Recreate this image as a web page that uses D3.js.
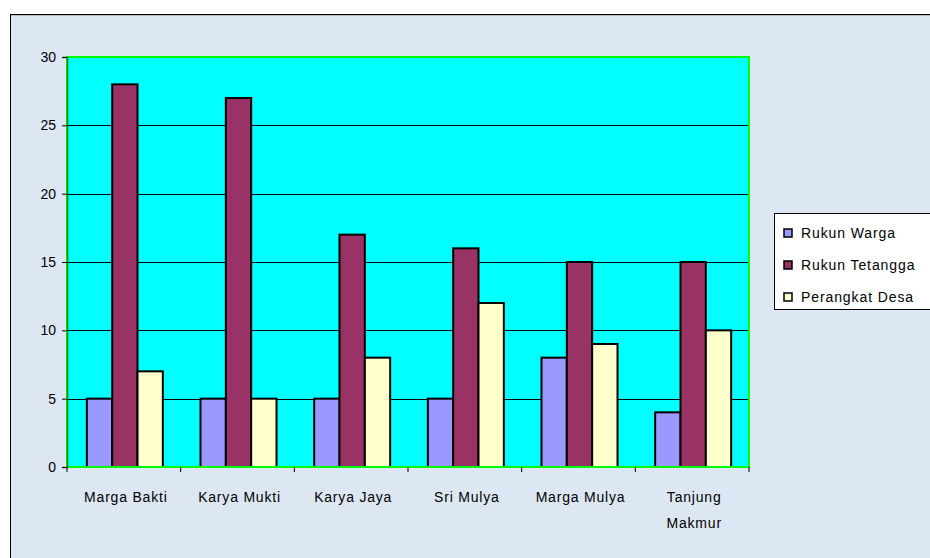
<!DOCTYPE html>
<html>
<head>
    <title>Jumlah RW, RT dan Perangkat Desa</title>
    <script src="https://cdnjs.cloudflare.com/ajax/libs/d3/7.8.5/d3.min.js"></script>
    <style>
        body { margin: 0; background: #fff; }
        text { font-family: Arial, "Liberation Sans", sans-serif; }
    </style>
</head>
<body>
    <div id="chart"></div>

    <script>
        // Data
        const categories = ['Marga Bakti', 'Karya Mukti', 'Karya Jaya', 'Sri Mulya', 'Marga Mulya', 'Tanjung Makmur'];
        const seriesNames = ['Rukun Warga', 'Rukun Tetangga', 'Perangkat Desa'];
        const rukunWarga = [5, 5, 5, 5, 8, 4];
        const rukunTetangga = [28, 27, 17, 16, 15, 15];
        const perangkatDesa = [7, 5, 8, 12, 9, 10];
        const yTicks = [0, 5, 10, 15, 20, 25, 30];

        const colors = ['#9999ff', '#993366', '#ffffcc'];
        const seriesValues = [rukunWarga, rukunTetangga, perangkatDesa];

        const width = 930;
        const height = 558;
        const plot = {left: 67, right: 749, top: 57, bottom: 467};

        const svg = d3.select('#chart')
            .append('svg')
            .attr('width', width)
            .attr('height', height);

        // chart frame
        svg.append('rect')
            .attr('x', 10.5).attr('y', 14.5)
            .attr('width', 940).attr('height', 560)
            .attr('fill', '#dde7f3')
            .attr('stroke', '#000').attr('stroke-width', 1);
        svg.append('line')
            .attr('x1', 11).attr('x2', width)
            .attr('y1', 15.5).attr('y2', 15.5)
            .attr('stroke', '#bbb');

        // scales
        const x = d3.scaleBand()
            .domain(categories)
            .range([plot.left, plot.right]);

        const xs = d3.scaleBand()
            .domain(seriesNames)
            .range([0, 76]);

        const y = d3.scaleLinear()
            .domain([0, 30])
            .range([plot.bottom, plot.top]);

        // plot background
        svg.append('rect')
            .attr('x', plot.left).attr('y', plot.top)
            .attr('width', plot.right - plot.left)
            .attr('height', plot.bottom - plot.top)
            .attr('fill', '#00ffff');

        // gridlines
        svg.append('g')
            .selectAll('line')
            .data(yTicks.filter(d => d > 0 && d < 30))
            .join('line')
            .attr('x1', plot.left).attr('x2', plot.right)
            .attr('y1', d => Math.round(y(d)) + 0.5)
            .attr('y2', d => Math.round(y(d)) + 0.5)
            .attr('stroke', '#000').attr('stroke-width', 1);

        // bars
        const rows = categories.map((c, i) => ({
            cat: c,
            vals: seriesNames.map((s, j) => ({series: s, idx: j, value: seriesValues[j][i]}))
        }));

        svg.append('g')
            .selectAll('g')
            .data(rows)
            .join('g')
            .attr('transform', d => `translate(${x(d.cat) + (x.bandwidth() - 76) / 2 + 1},0)`)
            .selectAll('rect')
            .data(d => d.vals)
            .join('rect')
            .attr('x', d => xs(d.series))
            .attr('y', d => y(d.value))
            .attr('width', xs.bandwidth())
            .attr('height', d => y(0) - y(d.value))
            .attr('fill', d => colors[d.idx])
            .attr('stroke', '#000')
            .attr('stroke-width', 2);

        // plot border (green)
        svg.append('rect')
            .attr('x', plot.left).attr('y', plot.top)
            .attr('width', plot.right - plot.left)
            .attr('height', plot.bottom - plot.top)
            .attr('fill', 'none')
            .attr('stroke', '#00ff00').attr('stroke-width', 2);

        // y axis
        const yAxis = svg.append('g')
            .attr('transform', `translate(${plot.left},0)`)
            .call(d3.axisLeft(y).tickValues(yTicks).tickSize(5).tickPadding(6));
        yAxis.select('.domain').attr('stroke', '#008000').attr('stroke-width', 1.5);
        yAxis.selectAll('text').attr('font-size', 14).attr('fill', '#000')
            .attr('font-family', 'Arial, "Liberation Sans", sans-serif');

        // x axis, ticks at category boundaries
        const xAxis = svg.append('g')
            .attr('transform', `translate(0,${plot.bottom})`);
        xAxis.selectAll('line')
            .data(d3.range(categories.length + 1))
            .join('line')
            .attr('x1', i => plot.left + i * x.step())
            .attr('x2', i => plot.left + i * x.step())
            .attr('y1', 0).attr('y2', 5)
            .attr('stroke', '#000');

        xAxis.selectAll('text')
            .data(categories)
            .join('text')
            .attr('y', 35)
            .attr('text-anchor', 'middle')
            .attr('font-size', 14)
            .attr('letter-spacing', 0.8)
            .each(function(d) {
                const words = d === 'Tanjung Makmur' ? ['Tanjung', 'Makmur'] : [d];
                d3.select(this).selectAll('tspan')
                    .data(words)
                    .join('tspan')
                    .attr('x', x(d) + x.bandwidth() / 2 + 2)
                    .attr('dy', (w, i) => i === 0 ? 0 : 26)
                    .text(w => w);
            });

        // legend
        const legend = svg.append('g').attr('transform', 'translate(774,213)');
        legend.append('rect')
            .attr('x', 0.5).attr('y', 0.5)
            .attr('width', 170).attr('height', 96)
            .attr('fill', '#fff').attr('stroke', '#000');
        const item = legend.selectAll('g.item')
            .data(seriesNames)
            .join('g')
            .attr('class', 'item')
            .attr('transform', (d, i) => `translate(0,${20 + i * 32})`);
        item.append('rect')
            .attr('x', 10).attr('y', -4)
            .attr('width', 8).attr('height', 8)
            .attr('fill', (d, i) => colors[i])
            .attr('stroke', '#000').attr('stroke-width', 1.5);
        item.append('text')
            .attr('x', 27).attr('y', 5)
            .attr('font-size', 14)
            .attr('letter-spacing', 0.9)
            .text(d => d);
    </script>
</body>
</html>
